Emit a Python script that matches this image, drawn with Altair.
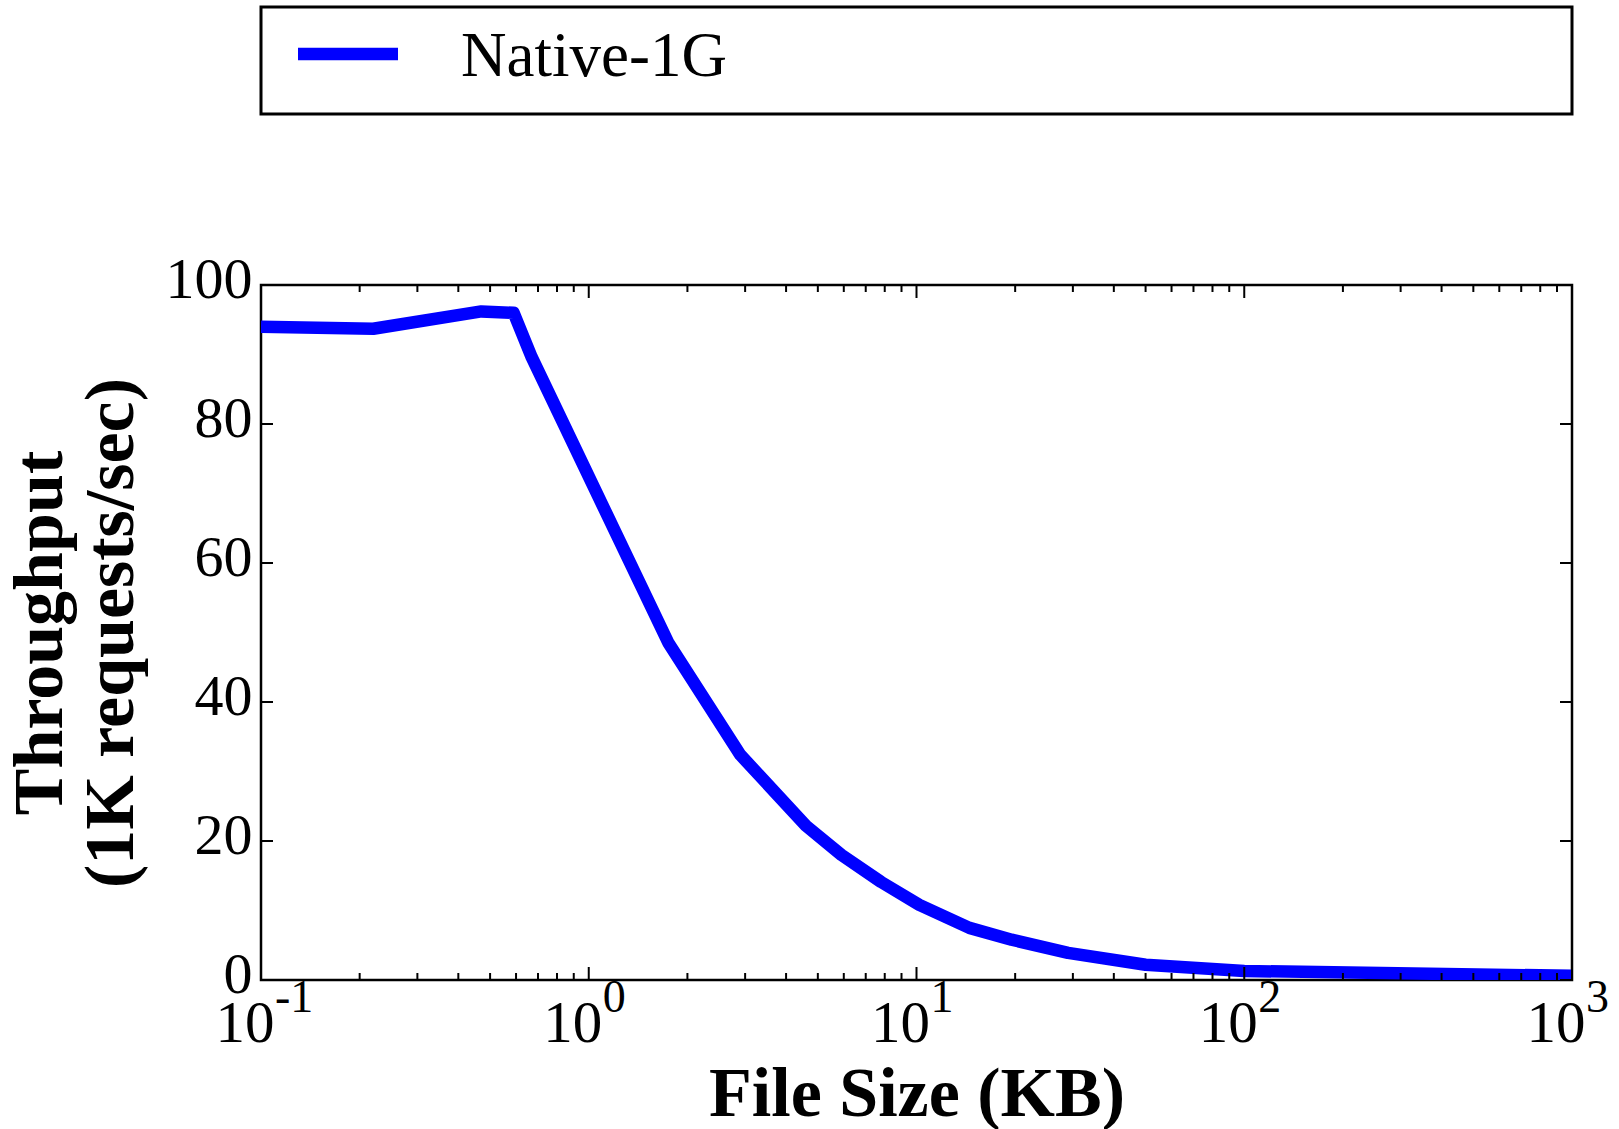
import altair as alt
import pandas as pd

# ---- data ----
file_size_kb = [0.1, 0.22, 0.47, 0.59, 0.67, 1.75, 2.9, 4.6, 5.9, 7.8, 10.2, 14.5, 19.5, 29, 50, 100, 1000]
throughput = [94.0, 93.7, 96.2, 96.0, 89.6, 48.5, 32.4, 22.2, 18.0, 14.1, 10.8, 7.5, 5.8, 3.9, 2.2, 1.3, 0.6]
series_name = ["Native-1G"]
x_major = [0.1, 1, 10, 100, 1000]
x_exponents = ["-1", "0", "1", "2", "3"]
minor_mult = [2, 3, 4, 5, 6, 7, 8, 9]
y_ticks = [0, 20, 40, 60, 80, 100]

W, H = 1311, 695
FONT = "Liberation Serif"
BLUE = "#0000ff"
BLACK = "#000000"

df = pd.DataFrame({"v": file_size_kb, "tp": throughput})
minor_vals = [m * d for d in x_major[:-1] for m in minor_mult]
major_df = pd.DataFrame({"v": x_major, "e": x_exponents})
minor_df = pd.DataFrame({"v": minor_vals})
yt_df = pd.DataFrame({"tp": y_ticks})
leg_df = pd.DataFrame({"name": series_name})

xscale = alt.Scale(type="log", domain=[0.1, 1000], nice=False)
yscale = alt.Scale(domain=[0, 100], nice=False, zero=False)

AX = alt.Axis(
    values=x_major, labelExpr="'10'", ticks=False, tickSize=0, domain=False, grid=False,
    labelFont=FONT, labelFontSize=59, labelColor=BLACK, labelAlign="right", labelOffset=13,
    labelBaseline="alphabetic", labelPadding=61, labelFlush=False, labelOverlap=False,
    title="File Size (KB)", titleFont=FONT, titleFontSize=70, titleFontWeight="bold",
    titleColor=BLACK, titleX=W / 2, titleY=135, titleBaseline="alphabetic", titleAlign="center",
)
AY = alt.Axis(
    values=y_ticks, ticks=False, tickSize=0, domain=False, grid=False,
    labelFont=FONT, labelFontSize=58, labelColor=BLACK, labelPadding=9,
    labelBaseline="middle", labelOffset=-5, labelFlush=False, labelOverlap=False,
    title=["Throughput", "(1K requests/sec)"], titleFont=FONT, titleFontSize=70,
    titleFontWeight="bold", titleColor=BLACK, titleLineHeight=71, titleAngle=270,
    titleX=-221, titleY=H / 2, titleBaseline="middle", titleAlign="center",
)

def X():
    return alt.X("v:Q", scale=xscale, axis=AX)

def Y():
    return alt.Y("tp:Q", scale=yscale, axis=AY)

line = alt.Chart(df).mark_line(
    color=BLUE, strokeWidth=12.5, strokeJoin="round", clip=True
).encode(x=X(), y=Y())

exps = alt.Chart(major_df).mark_text(
    font=FONT, fontSize=46, color=BLACK, align="left", baseline="alphabetic", dx=14, dy=32
).encode(x=X(), y=alt.value(H), text="e:N")

def xticks(data, length):
    bot = alt.Chart(data).mark_rule(color=BLACK, strokeWidth=2).encode(
        x=X(), y=alt.value(H), y2=alt.value(H - length))
    top = alt.Chart(data).mark_rule(color=BLACK, strokeWidth=2).encode(
        x=X(), y=alt.value(0), y2=alt.value(length))
    return [bot, top]

yt_left = alt.Chart(yt_df).mark_rule(color=BLACK, strokeWidth=2).encode(
    y=Y(), x=alt.value(0), x2=alt.value(12))
yt_right = alt.Chart(yt_df).mark_rule(color=BLACK, strokeWidth=2).encode(
    y=Y(), x=alt.value(W), x2=alt.value(W - 12))

leg_box = alt.Chart(leg_df).mark_rect(fill="white", stroke=BLACK, strokeWidth=3).encode(
    x=alt.value(0), x2=alt.value(W), y=alt.value(-278), y2=alt.value(-171))
leg_line = alt.Chart(leg_df).mark_rule(color=BLUE, strokeWidth=12.5, strokeCap="butt").encode(
    x=alt.value(37), x2=alt.value(137), y=alt.value(-231))
leg_text = alt.Chart(leg_df).mark_text(
    font=FONT, fontSize=63, color=BLACK, align="left", baseline="alphabetic").encode(
    x=alt.value(200), y=alt.value(-209), text="name:N")

chart = alt.layer(
    line,
    *xticks(major_df, 13), *xticks(minor_df, 7),
    yt_left, yt_right,
    exps,
    leg_box, leg_line, leg_text,
).properties(
    width=W, height=H,
    autosize=alt.AutoSizeParams(type="none"),
    padding={"left": 261, "top": 285, "right": 47, "bottom": 149},
    background="white",
).configure_view(stroke=BLACK, strokeWidth=2.5)

chart.save("out.html", embed_options={"renderer": "svg", "actions": False})
